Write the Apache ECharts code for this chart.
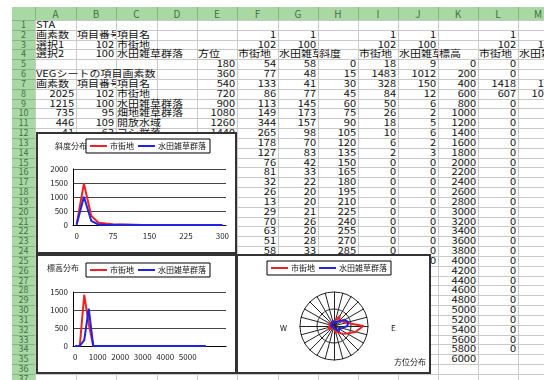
<!DOCTYPE html>
<html lang="ja">
<head>
<meta charset="utf-8">
<title>方位・斜度・標高分布</title>
<script src="https://cdn.jsdelivr.net/npm/echarts@6/dist/echarts.min.js"></script>
<style>
  html, body { margin:0; padding:0; background:#fff; width:544px; height:380px; overflow:hidden; }
  body { position:relative; font-family:"Noto Sans CJK JP", sans-serif; }
  .ln { position:absolute; }
  .hd { position:absolute; background:#a9d8a4; }
  .hdt { position:absolute; text-align:center; color:#466f46; font-size:10px; }
  .cell { position:absolute; white-space:nowrap; font-size:11px; color:#111; clip-path: inset(-4px 0 -4px 0);
          transform: scaleY(0.85); transform-origin: center; }
  .box { position:absolute; background:#fff; border:2px solid #333; box-sizing:border-box; z-index:5; }
  .box > div { position:absolute; left:0; top:0; }
</style>
</head>
<body>
<div class="box" style="left:36px;top:132px;width:201px;height:122px"><div id="c1" style="width:197px;height:118px"></div></div>
<div class="box" style="left:36px;top:254px;width:201px;height:120px"><div id="c2" style="width:197px;height:116px"></div></div>
<div class="box" style="left:236px;top:254px;width:195px;height:120px"><div id="c3" style="width:191px;height:116px"></div></div>
<script>
// ---- sheet data (column arrays) ----
// 方位 (E, F, G)
const aziCodes = [180,360,540,720,900,1080,1260,1440,1620,1800,1980,2160,2340,2520,2700,2880,3060,3240,3420,3600,3780,3960,4140,4320];
const aziUrban = [54,77,133,86,113,149,344,265,178,127,76,81,32,26,13,29,70,63,51,58,62,55,48,52];
const aziPaddy = [58,48,41,77,145,173,157,98,70,83,42,33,22,20,20,21,26,20,28,33,35,40,46,52];
// 斜度 (H, I, J)
const slopeCats  = [0,15,30,45,60,75,90,105,120,135,150,165,180,195,210,225,240,255,270,285,300];
const slopeUrban = [18,1483,328,84,50,26,18,10,6,2,0,0,0,0,0,0,0,0,0,0,0];
const slopePaddy = [9,1012,150,12,6,2,5,6,2,3,0,0,0,0,0,0,0,0,0,0,0];
// 標高 (K, L, M)
const elevCats  = [0,200,400,600,800,1000,1200,1400,1600,1800,2000,2200,2400,2600,2800,3000,3200,3400,3600,3800,4000,4200,4400,4600,4800,5000,5200,5400,5600,5800,6000];
const elevUrban = [0,0,1418,607,0,0,0,0,0,0,0,0,0,0,0,0,0,0,0,0,0,0,0,0,0,0,0,0,0,0];
const elevPaddy = [0,0,163,1036,0,0,0,0,0,0,0,0,0,0,0,0,0,0,0,0,0,0,0,0,0,0,0,0,0,0];
// series names / codes
const seriesNames = ['市街地','水田雑草群落'];
const seriesCodes = [102, 100];
// left block (A-C)
const vegCounts = [2025,1215,735,446,41];
const vegCodes  = [102,100,95,109,63];
const vegNames  = ['市街地','水田雑草群落','畑地雑草群落','開放水域','ヨシ群落'];

// ---- sheet geometry ----
const colEdges = [12,35,76,116,157,197,237,278,318,358,398,438,478,518,558];
const colNames = 'ABCDEFGHIJKLM';
const headTop = 7, headBot = 20, rowH = 9.83, rowCount = 38;
const yOf = r => headBot + (r - 1) * rowH;

function el(cls, css, text) {
  const d = document.createElement('div');
  d.className = cls;
  for (const k in css) d.style[k] = css[k];
  if (text != null) d.textContent = text;
  document.body.insertBefore(d, document.body.firstChild);
  return d;
}

// cell contents
const cells = {};
const put = (r, c, v) => { cells[r + ':' + c] = v; };
put(1,'A','STA');
put(2,'A','画素数'); put(2,'B','項目番号'); put(2,'C','項目名');
put(3,'A','選択1'); put(3,'B',seriesCodes[0]); put(3,'C',seriesNames[0]);
put(4,'A','選択2'); put(4,'B',seriesCodes[1]); put(4,'C',seriesNames[1]);
put(6,'A','VEGシートの項目画素数');
put(7,'A','画素数'); put(7,'B','項目番号'); put(7,'C','項目名');
vegCounts.forEach((v,i) => { put(8+i,'A',v); put(8+i,'B',vegCodes[i]); put(8+i,'C',vegNames[i]); });
[['E','F','G'],['H','I','J'],['K','L','M']].forEach((g, gi) => {
  put(4, g[0], ['方位','斜度','標高'][gi]);
  put(2, g[1], 1); put(2, g[2], 1);
  put(3, g[1], seriesCodes[0]); put(3, g[2], seriesCodes[1]);
  put(4, g[1], seriesNames[0]); put(4, g[2], seriesNames[1]);
});
aziCodes.forEach((v,i) => { put(5+i,'E',v); put(5+i,'F',aziUrban[i]); put(5+i,'G',aziPaddy[i]); });
slopeCats.forEach((v,i) => { put(5+i,'H',v); put(5+i,'I',slopeUrban[i]); put(5+i,'J',slopePaddy[i]); });
elevCats.forEach((v,i) => { put(5+i,'K',v); });
elevUrban.forEach((v,i) => { put(5+i,'L',v); put(5+i,'M',elevPaddy[i]); });

// draw cells
for (let r = 1; r <= rowCount; r++) {
  for (let c = 0; c < 13; c++) {
    const v = cells[r + ':' + colNames[c]];
    if (v == null) continue;
    const x0 = colEdges[c + 1], x1 = colEdges[c + 2];
    const top = yOf(r) + 'px', lh = rowH + 'px';
    if (typeof v === 'number') {
      el('cell', {left: x0 + 'px', top, width: (x1 - x0 - 2) + 'px', height: lh, lineHeight: lh, textAlign: 'right'}, String(v));
    } else {
      let e = c + 1;
      while (e < 13 && cells[r + ':' + colNames[e]] == null) e++;
      const xe = colEdges[e + 1];
      el('cell', {left: (x0 + 1) + 'px', top, width: (xe - x0 - 1) + 'px', height: lh, lineHeight: lh, textAlign: 'left'}, v);
    }
  }
}
// grid lines
for (let r = 1; r <= rowCount; r++) {
  el('ln', {left: colEdges[1] + 'px', top: yOf(r) + 'px', width: (544 - colEdges[1]) + 'px', height: '1px', background: '#c9c9c9'});
  el('ln', {left: colEdges[0] + 'px', top: yOf(r) + 'px', width: (colEdges[1] - colEdges[0]) + 'px', height: '1px', background: '#86b681'});
}
for (let i = 1; i < colEdges.length; i++) {
  el('ln', {left: colEdges[i] + 'px', top: headBot + 'px', width: '1px', height: (380 - headBot) + 'px', background: '#c9c9c9'});
  el('ln', {left: colEdges[i] + 'px', top: headTop + 'px', width: '1px', height: (headBot - headTop) + 'px', background: '#86b681'});
}
// header labels
for (let c = 0; c < 13; c++) {
  el('hdt', {left: colEdges[c + 1] + 'px', top: headTop + 'px', width: (colEdges[c + 2] - colEdges[c + 1]) + 'px', height: (headBot - headTop) + 'px', lineHeight: (headBot - headTop) + 'px'}, colNames[c]);
}
for (let r = 1; r <= rowCount; r++) {
  el('hdt', {left: colEdges[0] + 'px', top: yOf(r) + 'px', width: (colEdges[1] - colEdges[0]) + 'px', height: rowH + 'px', lineHeight: rowH + 'px', fontSize: '9px'}, String(r));
}
el('hd', {left: colEdges[0] + 'px', top: headTop + 'px', width: (colEdges[1] - colEdges[0]) + 'px', height: (380 - headTop) + 'px'});
el('hd', {left: colEdges[0] + 'px', top: headTop + 'px', width: (544 - colEdges[0]) + 'px', height: (headBot - headTop) + 'px'});

// ---- charts ----
const RED = '#ee2222', BLUE = '#2222e6';
const FONT = 'Noto Sans CJK JP';
const tiny = {fontSize: 8, color: '#222', fontFamily: FONT};
const plain = v => String(v);

function legendAt(left, top) {
  return {
    left, top, z: 10, icon: 'rect', itemWidth: 17, itemHeight: 2, itemGap: 4,
    padding: [3, 4], borderColor: '#000', borderWidth: 1, backgroundColor: '#fff',
    textStyle: {fontSize: 8, color: '#111', fontFamily: FONT, padding: [0, 0, 0, -2]},
    data: seriesNames
  };
}

function lineOption(cats, a, b, yMax, title, titleX, titleY, legendTop, gridTop, gridBottom) {
  return {
    animation: false,
    graphic: [{type: 'text', left: titleX, top: titleY, z: 1, style: {text: title, fontSize: 8, fill: '#222', fontFamily: FONT}}],
    legend: legendAt(48, legendTop),
    grid: {left: 35, right: 9, top: gridTop, bottom: gridBottom},
    xAxis: {
      type: 'category', data: cats, boundaryGap: true,
      axisLine: {lineStyle: {color: '#000'}}, axisTick: {show: false},
      axisLabel: Object.assign({interval: 4, margin: 7, formatter: plain}, tiny)
    },
    yAxis: {
      type: 'value', min: 0, max: yMax, interval: 500,
      axisLine: {show: true, lineStyle: {color: '#000'}},
      splitLine: {lineStyle: {color: '#444'}},
      axisLabel: Object.assign({margin: 5, formatter: plain}, tiny)
    },
    series: [
      {name: seriesNames[0], type: 'line', data: a, symbol: 'none', lineStyle: {color: RED, width: 2}, itemStyle: {color: RED}},
      {name: seriesNames[1], type: 'line', data: b, symbol: 'none', lineStyle: {color: BLUE, width: 2}, itemStyle: {color: BLUE}}
    ]
  };
}

// 斜度分布
echarts.init(document.getElementById('c1')).setOption(
  lineOption(slopeCats, slopeUrban, slopePaddy, 2000, '斜度分布', 17, 8, 5, 35, 27));

// 標高分布: the axis runs a few empty slots past the last row of data
const elevAxis = elevCats.slice(0, elevUrban.length).concat(['', '', '', '']);
echarts.init(document.getElementById('c2')).setOption(
  lineOption(elevAxis, elevUrban, elevPaddy, 1500, '標高分布', 9, 8, 7, 36, 26));

// 方位分布 (clockwise from north; ECharts radar runs counter-clockwise)
const order = aziUrban.map((_, k) => (aziUrban.length - k) % aziUrban.length);
echarts.init(document.getElementById('c3')).setOption({
  animation: false,
  legend: legendAt(29, 5),
  graphic: [
    {type: 'text', left: 42, top: 68, style: {text: 'W', fontSize: 8, fill: '#111', fontFamily: FONT}},
    {type: 'text', left: 153, top: 68, style: {text: 'E', fontSize: 8, fill: '#111', fontFamily: FONT}},
    {type: 'text', left: 156, top: 102, style: {text: '方位分布', fontSize: 8, fill: '#222', fontFamily: FONT}}
  ],
  radar: {
    center: [96, 70], radius: 34, startAngle: 90, shape: 'circle', splitNumber: 2,
    indicator: order.map(() => ({name: '', min: 0, max: 400})),
    axisName: {show: false},
    axisLine: {lineStyle: {color: '#222', width: 1}},
    splitLine: {lineStyle: {color: '#222', width: 1}},
    splitArea: {show: false}
  },
  series: [{
    type: 'radar', symbol: 'none',
    data: [
      {name: seriesNames[0], value: order.map(i => aziUrban[i]), lineStyle: {color: RED, width: 2}, itemStyle: {color: RED}},
      {name: seriesNames[1], value: order.map(i => aziPaddy[i]), lineStyle: {color: BLUE, width: 2}, itemStyle: {color: BLUE}}
    ]
  }]
});
</script>
</body>
</html>
